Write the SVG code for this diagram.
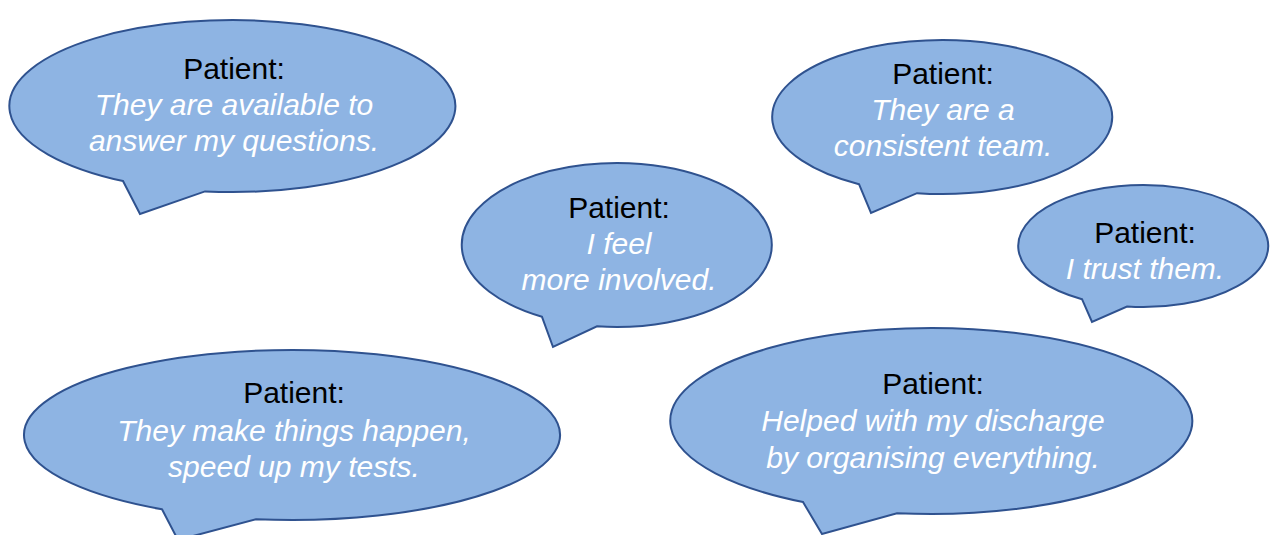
<svg xmlns="http://www.w3.org/2000/svg" width="1270" height="535" viewBox="0 0 1270 535">
<style>
.b{fill:#8EB4E3;stroke:#2F528F;stroke-width:2;stroke-linejoin:miter}
.t{font-family:"Liberation Sans",Arial,sans-serif;font-size:30px;text-anchor:middle}
.h{fill:#000}
.q{fill:#fff;font-style:italic}
</style>
<rect width="1270" height="535" fill="#fff"/>
<g id="bubble1">
<path class="b" d="M123,181 L140,214 L205,191.4 A223,86 0 1 0 123,181 Z"/>
<text class="t h" x="234" y="79">Patient:</text>
<text class="t q" x="234" y="115">They are available to</text>
<text class="t q" x="234" y="151">answer my questions.</text>
</g>
<g id="bubble2">
<path class="b" d="M542,316.8 L553,347 L597,326.3 A155,82 0 1 0 542,316.8 Z"/>
<text class="t h" x="619" y="218">Patient:</text>
<text class="t q" x="619" y="254">I feel</text>
<text class="t q" x="619" y="290">more involved.</text>
</g>
<g id="bubble3">
<path class="b" d="M859,184.2 L871,213 L917,193.2 A170,77 0 1 0 859,184.2 Z"/>
<text class="t h" x="943" y="84">Patient:</text>
<text class="t q" x="943" y="120">They are a</text>
<text class="t q" x="943" y="156">consistent team.</text>
</g>
<g id="bubble4">
<path class="b" d="M1082,299.2 L1092,322 L1127,306.5 A125,61 0 1 0 1082,299.2 Z"/>
<text class="t h" x="1145" y="243">Patient:</text>
<text class="t q" x="1145" y="279">I trust them.</text>
</g>
<g id="bubble5">
<path class="b" d="M162,509.3 L178,540 L256,519.2 A268,85 0 1 0 162,509.3 Z"/>
<text class="t h" x="294" y="403">Patient:</text>
<text class="t q" x="294" y="441">They make things happen,</text>
<text class="t q" x="294" y="477">speed up my tests.</text>
</g>
<g id="bubble6">
<path class="b" d="M803,502 L822,534 L897,513.2 A261,93 0 1 0 803,502 Z"/>
<text class="t h" x="933" y="394">Patient:</text>
<text class="t q" x="933" y="431">Helped with my discharge</text>
<text class="t q" x="933" y="468">by organising everything.</text>
</g>
<g id="connectors"></g>
</svg>
